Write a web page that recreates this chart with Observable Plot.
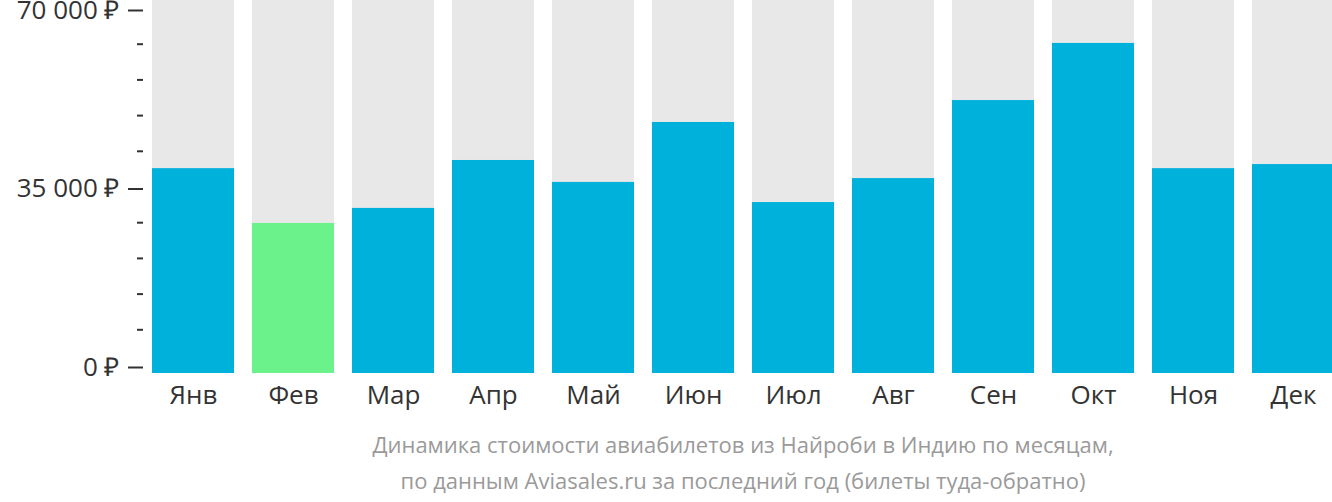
<!DOCTYPE html>
<html>
<head>
<meta charset="utf-8">
<script src="https://cdn.jsdelivr.net/npm/d3@7"></script>
<script src="https://cdn.jsdelivr.net/npm/@observablehq/plot@0.6"></script>
<style>
  html, body { margin: 0; padding: 0; background: #fff; overflow: hidden; }
  #chart svg { display: block; overflow: visible; }
  #caption {
    margin-left: 143px; width: 1200px; text-align: center;
    font-family: "Open Sans", sans-serif; font-size: 22px; color: #9a9a9a;
    line-height: 36px;
  }
</style>
</head>
<body>
<div id="chart"></div>
<div id="caption">Динамика стоимости авиабилетов из Найроби в Индию по месяцам,<br>по данным Aviasales.ru за последний год (билеты туда-обратно)</div>
<script>
const months = ["Янв","Фев","Мар","Апр","Май","Июн","Июл","Авг","Сен","Окт","Ноя","Дек"];
const prices = [38600, 27850, 30800, 40200, 35900, 47650, 31950, 36650, 51950, 63150, 38600, 39400];
const cheapest = "Фев";
const yMax = 70000;
const majorTicks = [0, 35000, 70000];
const minorTicks = [7000, 14000, 21000, 28000, 42000, 49000, 56000, 63000];

const data = months.map((m, i) => ({month: m, price: prices[i]}));
const fmt = v => d3.format(",")(v).replace(/,/g, "\u00a0") + " ₽";

const chart = Plot.plot({
  width: 1332,
  height: 426,
  marginTop: 8,
  marginBottom: 61,
  marginLeft: 143,
  marginRight: -11,
  style: {fontFamily: "Open Sans, sans-serif", fontSize: "26px", color: "#333", background: "transparent"},
  x: {domain: months, padding: 0.18, paddingOuter: 0.09, label: null},
  y: {domain: [0, yMax], label: null},
  marks: [
    Plot.barY(months, {x: d => d, y: () => yMax, fill: "#e8e8e8", insetTop: -8, insetBottom: -8}),
    Plot.barY(data, {x: "month", y: "price", fill: d => d.month === cheapest ? "#6cf28a" : "#00b1dc", insetBottom: -8}),
    Plot.axisY(minorTicks, {tickSize: 6, tickFormat: () => "", stroke: "#333", strokeWidth: 2}),
    Plot.axisY(majorTicks, {tickSize: 15, tickPadding: 9, tickFormat: fmt, stroke: "#333", strokeWidth: 2, fontSize: 26, fill: "#333", dy: 2}),
    Plot.axisX({tickSize: 0, tickPadding: 20, fontSize: 26, fill: "#333"})
  ]
});
document.getElementById("chart").appendChild(chart);
</script>
</body>
</html>
